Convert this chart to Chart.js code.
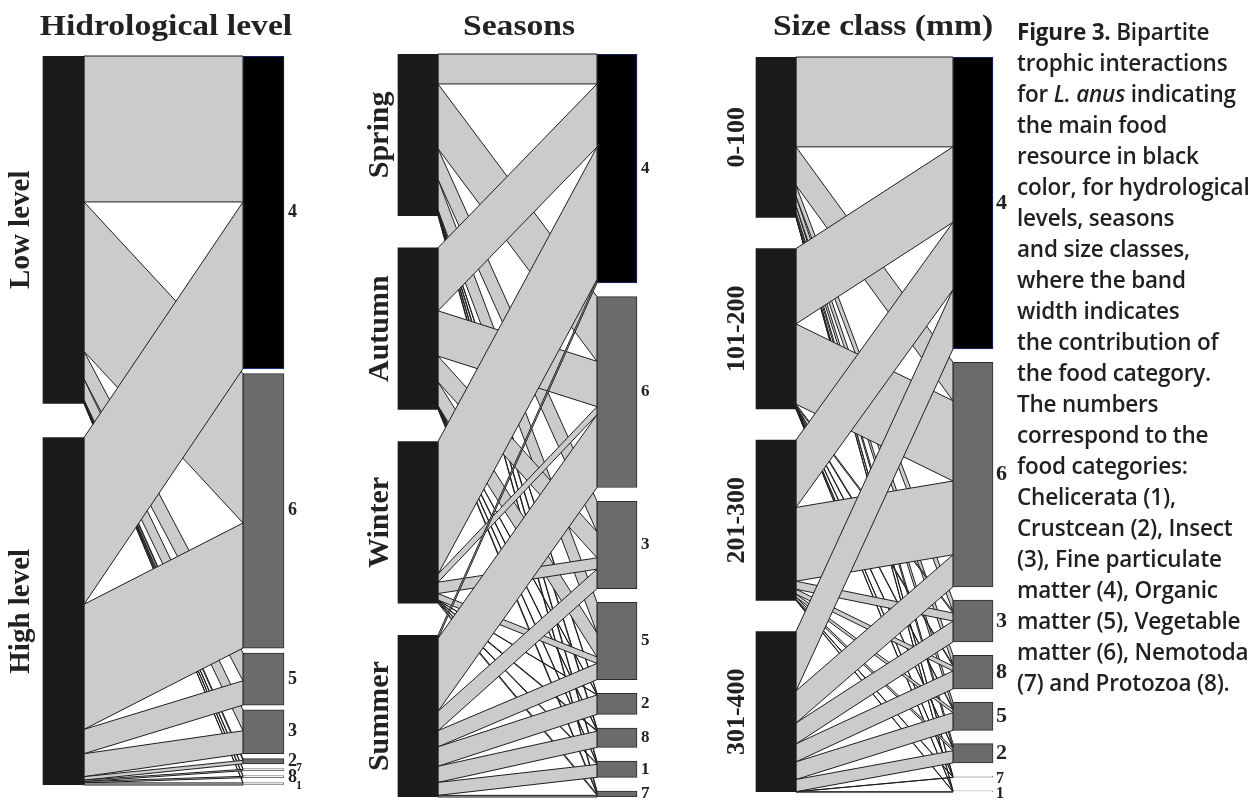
<!DOCTYPE html>
<html>
<head>
<meta charset="utf-8">
<script src="https://cdn.jsdelivr.net/npm/chart.js@4.4.1/dist/chart.umd.min.js"></script>
<style>
  body { margin: 0; background: #fff; width: 1256px; height: 800px; overflow: hidden; position: relative; }
  .panel { position: absolute; top: 0; height: 800px; }
  #caption {
    position: absolute; left: 1017px; top: 16px; z-index: 2;
    font-family: 'Open Sans', sans-serif; font-weight: 600; font-size: 22.5px;
    line-height: 31px; color: #231f20; white-space: nowrap; letter-spacing: -0.2px;
  }
  #caption b { font-weight: 700; }
</style>
</head>
<body>
<div class="panel" style="left:0;width:340px"><canvas id="hidro"></canvas></div>
<div class="panel" style="left:340px;width:340px"><canvas id="seasons"></canvas></div>
<div class="panel" style="left:680px;width:345px"><canvas id="size"></canvas></div>
<div id="caption">
<b>Figure 3.</b> Bipartite<br>
trophic interactions<br>
for <i>L. anus</i> indicating<br>
the main food<br>
resource in black<br>
color, for hydrological<br>
levels, seasons<br>
and size classes,<br>
where the band<br>
width indicates<br>
the contribution of<br>
the food category.<br>
The numbers<br>
correspond to the<br>
food categories:<br>
Chelicerata (1),<br>
Crustcean (2), Insect<br>
(3), Fine particulate<br>
matter (4), Organic<br>
matter (5), Vegetable<br>
matter (6), Nemotoda<br>
(7) and Protozoa (8).
</div>
<script>
// contributions (%) of each food category
const hidroLevels = ['Low level', 'High level'];
const hidroFoods = ['4', '6', '5', '3', '2', '7', '8', '1'];
const hidroLow = [42, 43, 8, 6, 0.5, 0.2, 0.2, 0.1];
const hidroHigh = [48, 36, 7, 6.6, 1, 0.4, 0.4, 0.6];

const seasons = ['Spring', 'Autumn', 'Winter', 'Summer'];
const seasonFoods = ['4', '6', '3', '5', '2', '8', '1', '7'];
const spring = [18.5, 40, 19, 19, 0.5, 1, 1, 1];
const autumn = [39, 28, 16, 14.8, 0.3, 0.5, 0.5, 0.9];
const winter = [82, 5, 7, 4, 0.2, 0.5, 0.5, 0.8];
const summer = [2, 45, 12, 10, 12, 10, 8, 1];

const sizeClasses = ['0-100', '101-200', '201-300', '301-400'];
const sizeFoods = ['4', '6', '3', '8', '5', '2', '7', '1'];
const size0 = [56, 24, 7, 6, 4, 2.5, 0.25, 0.25];
const size101 = [47, 50, 1, 0.8, 0.5, 0.4, 0.15, 0.15];
const size201 = [42, 46, 5, 3, 2, 1.5, 0.25, 0.25];
const size301 = [37, 20, 13, 11.2, 11, 7.6, 0.1, 0.1];

function stackStarts(totals, gap) {
    const starts = [];
    let pos = 0;
    totals.forEach((t) => { starts.push(pos); pos += t + gap; });
    return starts;
}

function makeWebPlugin(w) {
    return {
        id: 'web',
        beforeDatasetsDraw(chart) {
            const ctx = chart.ctx;
            const y = chart.scales.y;
            const nL = w.leftNames.length;
            const rightCum = w.rightStarts.slice();
            ctx.save();
            ctx.lineWidth = 1;
            ctx.strokeStyle = '#1e1e1e';
            ctx.fillStyle = '#cbcbcb';
            w.links.forEach((row, i) => {
                const lEl = chart.getDatasetMeta(i).data[0];
                const xl = lEl.x + lEl.width / 2;
                let lPos = w.leftStarts[i];
                row.forEach((v, j) => {
                    if (!v) return;
                    const rEl = chart.getDatasetMeta(nL + j).data[2];
                    const xr = rEl.x - rEl.width / 2;
                    const rPos = rightCum[j];
                    ctx.beginPath();
                    ctx.moveTo(xl, y.getPixelForValue(lPos));
                    ctx.lineTo(xr, y.getPixelForValue(rPos));
                    ctx.lineTo(xr, y.getPixelForValue(rPos + v));
                    ctx.lineTo(xl, y.getPixelForValue(lPos + v));
                    ctx.closePath();
                    ctx.fill();
                    ctx.stroke();
                    lPos += v;
                    rightCum[j] += v;
                });
            });
            ctx.restore();
        },
        afterDraw(chart) {
            const c = w.cfg;
            const ctx = chart.ctx;
            const y = chart.scales.y;
            const nL = w.leftNames.length;
            ctx.save();
            ctx.fillStyle = '#222';
            ctx.textAlign = 'center';
            ctx.textBaseline = 'alphabetic';
            ctx.font = `bold ${c.titleSize}px "Liberation Serif"`;
            ctx.save();
            ctx.translate(c.titleX, c.titleY);
            ctx.scale(1.12, 1);
            ctx.fillText(c.title, 0, 0);
            ctx.restore();

            ctx.textBaseline = 'middle';
            ctx.font = `bold ${c.leftSize}px "Liberation Serif"`;
            w.leftNames.forEach((name, i) => {
                const el = chart.getDatasetMeta(i).data[0];
                const cy = y.getPixelForValue(w.leftStarts[i] + w.leftTotals[i] / 2);
                ctx.save();
                ctx.translate(el.x - el.width / 2 - c.leftOffset, cy);
                ctx.rotate(-Math.PI / 2);
                ctx.fillText(name, 0, 0);
                ctx.restore();
            });

            ctx.textAlign = 'left';
            w.rightNames.forEach((name, j) => {
                const el = chart.getDatasetMeta(nL + j).data[2];
                const tweak = (c.rightTweaks && c.rightTweaks[name]) || {};
                const cy = y.getPixelForValue(w.rightStarts[j] + w.rightTotals[j] / 2);
                ctx.font = `bold ${tweak.size || c.rightSize}px "Liberation Serif"`;
                ctx.fillText(name, el.x + el.width / 2 + c.rightOffset + (tweak.dx || 0), cy + (tweak.dy || 0));
            });
            ctx.restore();
        }
    };
}

function renderWeb(canvasId, leftNames, rightNames, links, cfg) {
    const leftTotals = links.map((row) => row.reduce((a, b) => a + b, 0));
    const rightTotals = rightNames.map((_, j) => links.reduce((a, row) => a + row[j], 0));
    const sum = leftTotals.reduce((a, b) => a + b, 0);
    const span = sum + cfg.gapLeft * (leftNames.length - 1);
    const gapRight = (span - sum) / (rightNames.length - 1);
    const leftStarts = stackStarts(leftTotals, cfg.gapLeft);
    const rightStarts = stackStarts(rightTotals, gapRight);

    const datasets = [];
    leftNames.forEach((name, i) => {
        datasets.push({
            label: name,
            data: [[leftStarts[i], leftStarts[i] + leftTotals[i]], null, null],
            backgroundColor: '#1b1b1b',
            borderWidth: 0,
        });
    });
    rightNames.forEach((name, j) => {
        datasets.push({
            label: name,
            data: [null, null, [rightStarts[j], rightStarts[j] + rightTotals[j]]],
            backgroundColor: j === 0 ? '#000000' : (rightTotals[j] < 1 ? '#ffffff' : '#6b6b6b'),
            borderColor: j === 0 ? '#1c2b7f' : (rightTotals[j] < 1 ? '#777' : '#2b2b2b'),
            borderWidth: 1,
            borderSkipped: false,
        });
    });

    const web = { leftNames, rightNames, links, leftTotals, rightTotals, leftStarts, rightStarts, cfg };

    return new Chart(document.getElementById(canvasId), {
        type: 'bar',
        data: { labels: ['lower', 'mid', 'higher'], datasets: datasets },
        plugins: [makeWebPlugin(web)],
        options: {
            responsive: true,
            maintainAspectRatio: false,
            animation: false,
            events: [],
            layout: { padding: cfg.padding },
            datasets: { bar: { grouped: false, barThickness: cfg.barThickness } },
            plugins: { legend: { display: false }, tooltip: { enabled: false }, title: { display: false } },
            scales: {
                x: { type: 'category', display: false, offset: true },
                y: { type: 'linear', display: false, min: 0, max: span, reverse: true },
            },
        },
    });
}

renderWeb('hidro', hidroLevels, hidroFoods, [hidroLow, hidroHigh], {
    gapLeft: 9.8, barThickness: 41,
    padding: { left: 13.5, right: 26.5, top: 56, bottom: 15 },
    title: 'Hidrological level', titleSize: 30, titleX: 166, titleY: 35,
    leftSize: 29, leftOffset: 21, rightSize: 18, rightOffset: 4,
    rightTweaks: { '7': { size: 12, dx: 8, dy: -2 }, '1': { size: 12, dx: 8, dy: 2 }, '8': { dy: 1 } },
});

renderWeb('seasons', seasons, seasonFoods, [spring, autumn, winter, summer], {
    gapLeft: 19.75, barThickness: 40,
    padding: { left: 28.25, right: 13.25, top: 54, bottom: 3 },
    title: 'Seasons', titleSize: 30, titleX: 179, titleY: 35,
    leftSize: 30, leftOffset: 18, rightSize: 17, rightOffset: 4,
});

renderWeb('size', sizeClasses, sizeFoods, [size0, size101, size201, size301], {
    gapLeft: 19.4, barThickness: 40,
    padding: { left: 46.75, right: 2.75, top: 57, bottom: 8 },
    title: 'Size class (mm)', titleSize: 30, titleX: 203, titleY: 35,
    leftSize: 26, leftOffset: 19, rightSize: 22, rightOffset: 3,
    rightTweaks: { '7': { size: 16, dy: 2 }, '1': { size: 16, dy: 2 } },
});
</script>
</body>
</html>
